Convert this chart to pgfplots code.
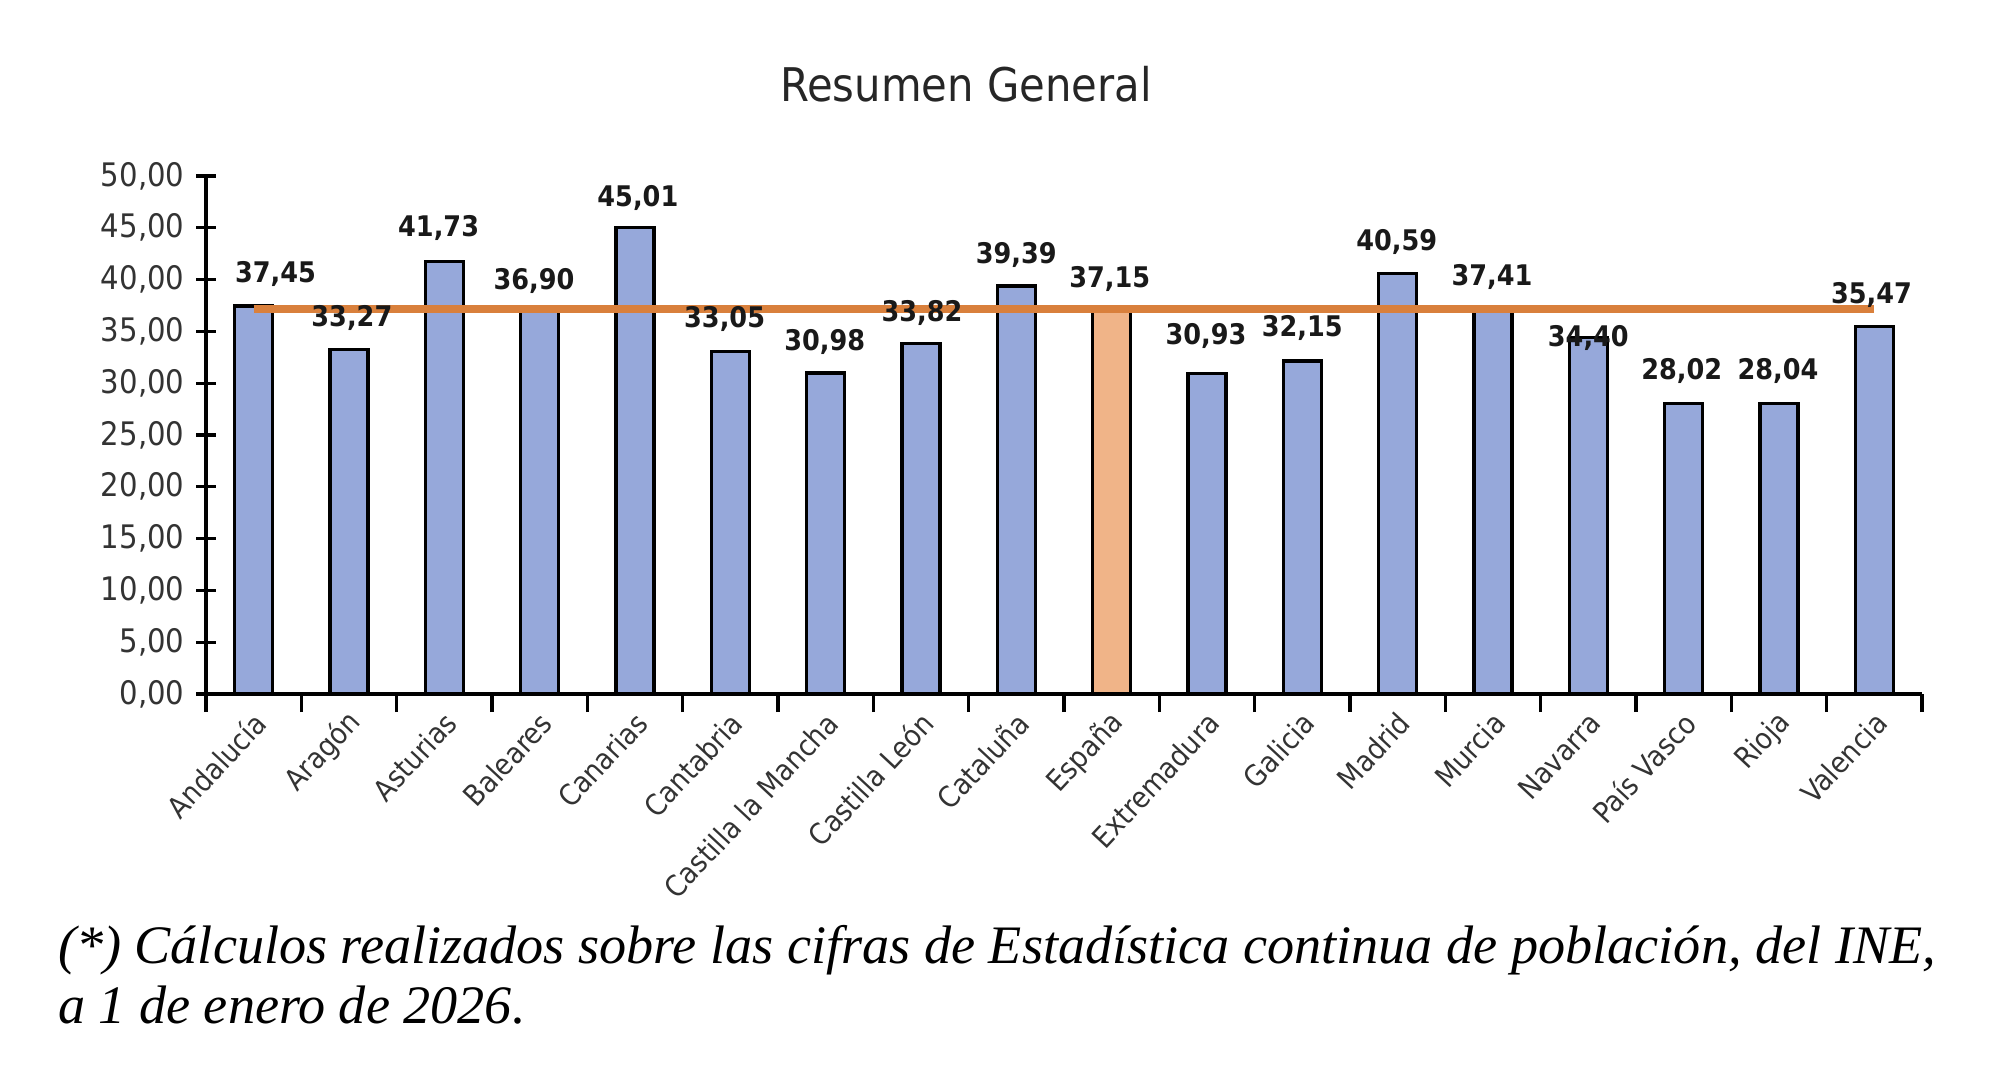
\documentclass[border=0pt]{standalone}
\usepackage{pgfplots}
\pgfplotsset{compat=1.18}
\usepackage{pgfplotstable}
\usepackage{fontspec}
\setmainfont{DejaVu Sans Condensed}
\newfontfamily\timesfont{Liberation Serif}
\definecolor{barblue}{HTML}{96A8DA}
\definecolor{barorange}{HTML}{F0B488}
\definecolor{lineorange}{HTML}{D9803C}

\pgfplotstableread{
x y
0 37.45
1 33.27
2 41.73
3 36.90
4 45.01
5 33.05
6 30.98
7 33.82
8 39.39
10 30.93
11 32.15
12 40.59
13 37.41
14 34.40
15 28.02
16 28.04
17 35.47
}\regiones

\pgfplotstableread{
x y
9 37.15
}\espana

\pgfplotstableread{
x y label
0.23 40.5 37,45
1.03 36.3 33,27
1.94 44.95 41,73
2.94 39.9 36,90
4.03 47.9 45,01
4.94 36.2 33,05
5.99 34.0 30,98
7.01 36.8 33,82
8.0 42.4 39,39
8.98 40.1 37,15
9.99 34.6 30,93
11.0 35.3 32,15
11.99 43.6 40,59
12.99 40.3 37,41
14.0 34.4 34,40
14.98 31.2 28,02
15.99 31.2 28,04
16.97 38.5 35,47
}\etiquetas

\begin{document}
\begin{tikzpicture}
\useasboundingbox (-51.5pt,-94.5pt) rectangle (448.5pt,173.5pt);
\begin{axis}[
  at={(0,0)}, anchor=south west,
  scale only axis,
  width=429pt, height=129.5pt,
  xmin=-0.5, xmax=17.5,
  ymin=0, ymax=50,
  axis lines*=left,
  axis line style={black, line width=0.9pt},
  xtick={0,...,17},
  xticklabels={Andalucía, Aragón, Asturias, Baleares, Canarias, Cantabria, Castilla la Mancha, Castilla León, Cataluña, España, Extremadura, Galicia, Madrid, Murcia, Navarra, País Vasco, Rioja, Valencia},
  minor xtick={-0.5,0.5,...,17.5},
  major x tick style={draw=none},
  minor x tick style={black, line width=0.8pt},
  minor tick length=4.5pt,
  tick align=outside,
  ytick={0,5,...,50},
  major tick length=4.8pt,
  ytick style={black, line width=0.8pt, xshift=2.4pt},
  yticklabel style={font=\fontsize{8.1}{10}\selectfont, text=black!80, inner sep=1pt, xshift=0.6pt},
  xticklabel style={font=\fontsize{7.3}{9}\selectfont, text=black!80, rotate=47, anchor=east, inner sep=1pt, xshift=1.5pt, yshift=-2pt},
  y tick label style={/pgf/number format/.cd, fixed, fixed zerofill, precision=2, use comma},
  /pgf/number format/assume math mode=true,
  clip=false,
]
\addplot[ybar, bar width=9.5pt, bar shift=0pt, fill=barblue, draw=black, line width=0.8pt] table[x=x, y=y] {\regiones};
\addplot[ybar, bar width=9.5pt, bar shift=0pt, fill=barorange, draw=black, line width=0.8pt] table[x=x, y=y] {\espana};
\addplot[lineorange, line width=2pt, mark=none] coordinates {(0,37.15) (17,37.15)};
\addplot[draw=none, mark=none, nodes near coords, point meta=explicit symbolic,
  nodes near coords style={anchor=center, font=\fontsize{7.1}{9}\selectfont\bfseries, text=black!90, inner sep=0pt}]
  table[x=x, y=y, meta=label] {\etiquetas};
\end{axis}
\node[anchor=base, font=\fontsize{11.6}{13}\selectfont, text=black!85] at (190pt,148.2pt) {Resumen General};
\node[anchor=base west, inner sep=0pt, font=\timesfont\itshape\fontsize{13.55}{15}\selectfont] at (-37.2pt,-67.25pt) {(*) Cálculos realizados sobre las cifras de Estadística continua de población, del INE,};
\node[anchor=base west, inner sep=0pt, font=\timesfont\itshape\fontsize{13.55}{15}\selectfont] at (-37.2pt,-82.25pt) {a 1 de enero de 2026.};
\end{tikzpicture}
\end{document}
